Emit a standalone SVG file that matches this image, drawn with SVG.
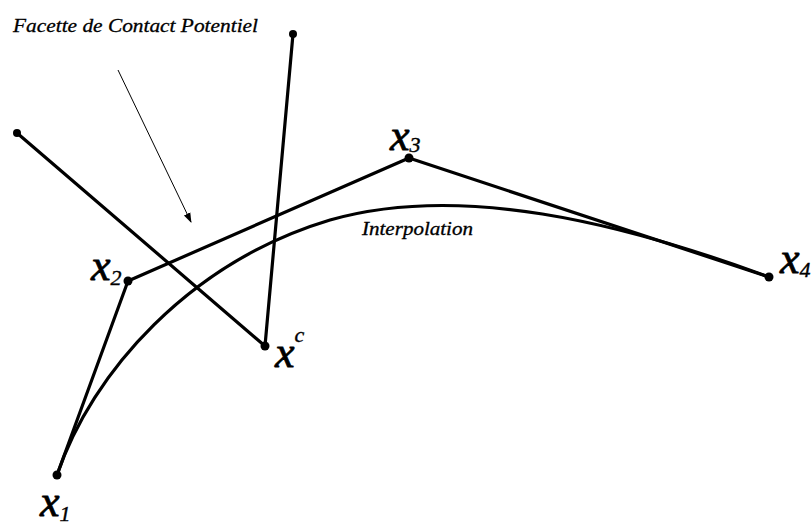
<svg xmlns="http://www.w3.org/2000/svg" width="811" height="529" viewBox="0 0 811 529">
<style>
.ln{fill:none;stroke:#000;stroke-width:3.2;stroke-linecap:round;stroke-linejoin:round}
.dot{fill:#000}
.lab{font-family:"Liberation Serif",serif;font-style:italic;fill:#000}
.big{font-size:44px;stroke:#000;stroke-width:0.8}
.sub{font-size:22px;stroke:#000;stroke-width:0.4}
.small{font-size:19px;stroke:#000;stroke-width:0.3}
</style>
<defs>
<marker id="ah" markerWidth="10" markerHeight="10" refX="9" refY="5" orient="auto" markerUnits="userSpaceOnUse">
<path d="M0,1.5 L10,5 L0,8.5 Z" fill="#000"/>
</marker>
</defs>
<rect width="811" height="529" fill="#fff"/>
<g id="connectors">
<polyline class="ln" points="57,475 128,281 409,158 769,277"/>
<line class="ln" x1="17" y1="133" x2="265" y2="346"/>
<line class="ln" x1="293" y1="34" x2="265" y2="346"/>
<path class="ln" d="M57,475 C92,372 190,262 330,220 C460,183 620,222 769,277" stroke-width="2.8"/>
<line x1="118" y1="70" x2="191" y2="222" stroke="#000" stroke-width="1" marker-end="url(#ah)"/>
</g>
<g id="x1"><circle class="dot" cx="57" cy="475" r="4.5"/><text class="lab" x="40" y="516"><tspan class="big">x</tspan><tspan class="sub" dy="5">1</tspan></text></g>
<g id="x2"><circle class="dot" cx="128" cy="281" r="4.5"/><text class="lab" x="91" y="280"><tspan class="big">x</tspan><tspan class="sub" dy="5">2</tspan></text></g>
<g id="x3"><circle class="dot" cx="409" cy="158" r="4.5"/><text class="lab" x="390" y="150"><tspan class="big">x</tspan><tspan class="sub" dy="2">3</tspan></text></g>
<g id="x4"><circle class="dot" cx="769" cy="277" r="4.5"/><text class="lab" x="780" y="273"><tspan class="big">x</tspan><tspan class="sub" dy="4">4</tspan></text></g>
<g id="xc"><circle class="dot" cx="265" cy="346" r="4.5"/><text class="lab" x="275" y="367"><tspan class="big">x</tspan><tspan class="sub" dy="-25" font-size="18">c</tspan></text></g>
<g id="end-top"><circle class="dot" cx="293" cy="34" r="4"/></g>
<g id="end-left"><circle class="dot" cx="17" cy="133" r="4"/></g>
<g id="label-facette"><text class="lab small" x="13" y="32" textLength="245" lengthAdjust="spacingAndGlyphs">Facette de Contact Potentiel</text></g>
<g id="label-interp"><text class="lab" x="362" y="235" font-size="18" stroke="#000" stroke-width="0.3" textLength="111" lengthAdjust="spacingAndGlyphs">Interpolation</text></g>
</svg>
